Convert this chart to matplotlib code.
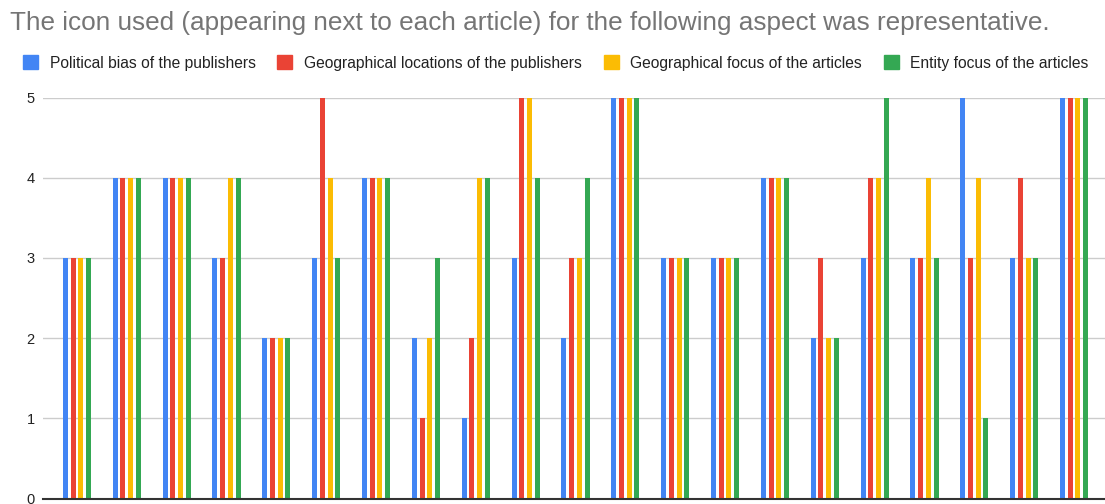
import numpy as np
import matplotlib.pyplot as plt
from matplotlib.patches import Patch

plt.rcParams['font.family'] = ['Liberation Sans', 'DejaVu Sans']

### données

series = ["Political bias of the publishers",
          "Geographical locations of the publishers",
          "Geographical focus of the articles",
          "Entity focus of the articles"]
colors = ["#4285F4", "#EA4335", "#FBBC04", "#34A853"]

political = [3, 4, 4, 3, 2, 3, 4, 2, 1, 3, 2, 5, 3, 3, 4, 2, 3, 3, 5, 3, 5]
locations = [3, 4, 4, 3, 2, 5, 4, 1, 2, 5, 3, 5, 3, 3, 4, 3, 4, 3, 3, 4, 5]
geo_focus = [3, 4, 4, 4, 2, 4, 4, 2, 4, 5, 3, 5, 3, 3, 4, 2, 4, 4, 4, 3, 5]
entity = [3, 4, 4, 4, 2, 3, 4, 3, 4, 4, 4, 5, 3, 3, 4, 2, 5, 3, 1, 3, 5]
values = [political, locations, geo_focus, entity]

yticks = [0, 1, 2, 3, 4, 5]

### figure

fig = plt.figure(figsize=(11.05, 5.04), dpi=100)
ax = fig.add_axes([43 / 1105, 5.5 / 504, 1 - 43 / 1105, 401 / 504])

x = np.arange(len(political))
pitch = 0.155
for i, (vals, col) in enumerate(zip(values, colors)):
    ax.bar(x + (i - 1.5) * pitch, vals, width=0.1, color=col, zorder=3)

ax.set_xlim(-0.68, 20.62)
ax.set_ylim(0, 5)
ax.set_yticks(yticks)
ax.set_yticklabels([str(v) for v in yticks], fontsize=10.5, color="#222222")
ax.set_xticks([])
ax.tick_params(axis='y', length=0, pad=6)
ax.grid(axis='y', color="#cccccc", linewidth=1, zorder=0)
for s in ["top", "right", "left"]:
    ax.spines[s].set_visible(False)
ax.spines["bottom"].set_color("#333333")
ax.spines["bottom"].set_linewidth(1.5)
ax.spines["bottom"].set_zorder(4)

fig.text(10 / 1105, 1 - 23 / 504,
         "The icon used (appearing next to each article) for the following aspect was representative.",
         fontsize=18.8, color="#757575", va="center", ha="left")

handles = [Patch(facecolor=c, edgecolor=c) for c in colors]
fig.legend(handles, series, loc="center left", bbox_to_anchor=(23 / 1105, 1 - 63 / 504),
           ncol=4, frameon=False, fontsize=11.25, handlelength=0.95, handleheight=0.95,
           handletextpad=0.75, columnspacing=1.4, labelcolor="#222222",
           borderpad=0, borderaxespad=0)

fig.savefig("out.png", dpi=100)
